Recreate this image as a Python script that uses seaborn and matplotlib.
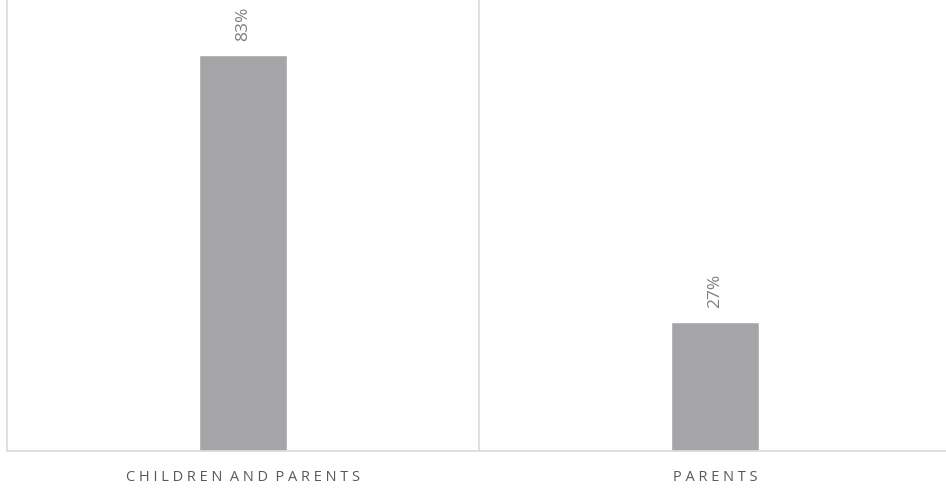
import matplotlib
matplotlib.use("Agg")
import matplotlib.pyplot as plt
import seaborn as sns
import pandas as pd

categories = ["CHILDREN AND PARENTS", "PARENTS"]
shares = [0.83, 0.27]
value_labels = ["83%", "27%"]

BAR_COLOR = "#a5a5a8"
GRID_COLOR = "#d9d9d9"
TEXT_COLOR = "#595959"
LABEL_COLOR = "#7f7f7f"

sns.set_theme(style="white")
plt.rcParams["font.family"] = ["Open Sans", "DejaVu Sans"]

df = pd.DataFrame({"group": categories, "share": shares})

fig = plt.figure(figsize=(9.46, 4.89), dpi=100)
ax = fig.add_axes([7 / 946, 37 / 489, 944 / 946, 452 / 489])

sns.barplot(data=df, x="group", y="share", color=BAR_COLOR, width=0.185,
            saturation=1, ax=ax)

ax.set_xlim(-0.5, 1.5)
ax.set_ylim(0, 0.948)

# divider between the two categories
ax.axvline(0.5, color=GRID_COLOR, lw=1.2, zorder=0)

for s in ["top", "right"]:
    ax.spines[s].set_visible(False)
for s in ["left", "bottom"]:
    ax.spines[s].set_color(GRID_COLOR)
    ax.spines[s].set_linewidth(1.2)

ax.set_yticks([])
ax.set_xlabel("")
ax.set_ylabel("")


def spaced(text):
    return "  ".join(" ".join(word) for word in text.split(" "))


ax.set_xticks(range(len(categories)))
ax.set_xticklabels([spaced(c) for c in categories], fontsize=10.5,
                   color=TEXT_COLOR)
ax.tick_params(axis="x", length=0, pad=13)

for i, (v, lab) in enumerate(zip(shares, value_labels)):
    ax.annotate(lab, xy=(i, v), xytext=(0, 11), textcoords="offset points",
                rotation=90, ha="center", va="bottom", fontsize=12.5,
                color=LABEL_COLOR)

fig.savefig("out.png", dpi=100)
